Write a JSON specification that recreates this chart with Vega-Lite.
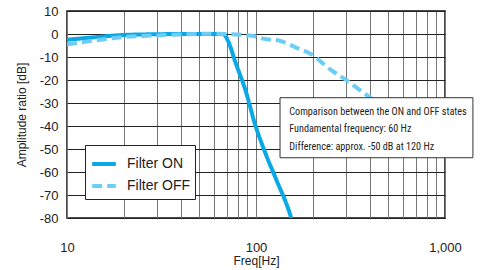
{
  "$schema": "https://vega.github.io/schema/vega-lite/v6.json",
  "width": 378,
  "height": 207,
  "autosize": {"type": "none"},
  "padding": {"left": 67, "top": 11, "right": 35, "bottom": 52},
  "background": "white",
  "config": {
    "font": "Liberation Sans",
    "view": {"stroke": "#111", "strokeWidth": 1.5},
    "axis": {"labelFont": "Liberation Sans", "titleFont": "Liberation Sans", "labelColor": "#222", "titleColor": "#222", "titleFontWeight": "normal"}
  },
  "datasets": {
    "curves": [
      {"freq": 10, "db": -2.5, "state": "Filter ON"},
      {"freq": 15, "db": -1.2, "state": "Filter ON"},
      {"freq": 20, "db": -0.4, "state": "Filter ON"},
      {"freq": 30, "db": -0.1, "state": "Filter ON"},
      {"freq": 40, "db": 0, "state": "Filter ON"},
      {"freq": 67, "db": 0, "state": "Filter ON"},
      {"freq": 69, "db": -1, "state": "Filter ON"},
      {"freq": 72, "db": -4, "state": "Filter ON"},
      {"freq": 77.4, "db": -11.7, "state": "Filter ON"},
      {"freq": 88, "db": -24.5, "state": "Filter ON"},
      {"freq": 98.9, "db": -39.3, "state": "Filter ON"},
      {"freq": 113, "db": -52.5, "state": "Filter ON"},
      {"freq": 128.9, "db": -63.9, "state": "Filter ON"},
      {"freq": 151.4, "db": -78.4, "state": "Filter ON"},
      {"freq": 156, "db": -82, "state": "Filter ON"},
      {"freq": 10, "db": -4.5, "state": "Filter OFF"},
      {"freq": 15, "db": -2.5, "state": "Filter OFF"},
      {"freq": 20, "db": -1.3, "state": "Filter OFF"},
      {"freq": 30, "db": -0.6, "state": "Filter OFF"},
      {"freq": 40, "db": -0.2, "state": "Filter OFF"},
      {"freq": 55, "db": 0.1, "state": "Filter OFF"},
      {"freq": 70, "db": 0, "state": "Filter OFF"},
      {"freq": 85, "db": -0.4, "state": "Filter OFF"},
      {"freq": 100, "db": -1.1, "state": "Filter OFF"},
      {"freq": 109, "db": -2, "state": "Filter OFF"},
      {"freq": 134, "db": -3, "state": "Filter OFF"},
      {"freq": 164, "db": -6, "state": "Filter OFF"},
      {"freq": 197, "db": -8.9, "state": "Filter OFF"},
      {"freq": 247, "db": -15.4, "state": "Filter OFF"},
      {"freq": 302, "db": -20.2, "state": "Filter OFF"},
      {"freq": 392, "db": -27, "state": "Filter OFF"},
      {"freq": 460, "db": -31, "state": "Filter OFF"}
    ],
    "box": [{"freq": 134, "freq2": 1405, "db": -27.7, "db2": -53.8}],
    "notes": [
      {"freq": 150, "db": -33.7, "text": "Comparison between the ON and OFF states"},
      {"freq": 150, "db": -41.2, "text": "Fundamental frequency: 60 Hz"},
      {"freq": 150, "db": -49.0, "text": "Difference: approx. -50 dB at 120 Hz"}
    ]
  },
  "encoding": {
    "x": {
      "field": "freq", "type": "quantitative",
      "scale": {"type": "log", "domain": [10, 1000], "nice": false},
      "axis": {
        "title": "Freq[Hz]", "titleFontSize": 12, "titlePadding": 1,
        "values": [10, 20, 30, 40, 50, 60, 70, 80, 90, 100, 200, 300, 400, 500, 600, 700, 800, 900, 1000],
        "labelExpr": "indexof([10, 100, 1000], datum.value) >= 0 ? format(datum.value, ',') : ''",
        "labelFontSize": 13, "labelPadding": 23, "tickSize": 0, "domain": false,
        "grid": true, "gridColor": "#777", "gridWidth": 1, "gridOpacity": 1, "labelFlush": false, "labelOverlap": false
      }
    },
    "y": {
      "field": "db", "type": "quantitative",
      "scale": {"domain": [-80, 10], "nice": false},
      "axis": {
        "title": "Amplitude ratio [dB]", "titleFontSize": 12,
        "titleX": -46, "titleY": 103.5, "titleAngle": -90, "titleAlign": "center", "titleBaseline": "middle",
        "values": [-80, -70, -60, -50, -40, -30, -20, -10, 0, 10],
        "labelExpr": "'' + datum.value",
        "labelFontSize": 13, "labelPadding": 9, "tickSize": 0, "domain": false,
        "grid": true, "gridColor": "#222", "gridWidth": 1, "gridOpacity": 1, "labelOverlap": false
      }
    }
  },
  "layer": [
    {
      "data": {"name": "curves"},
      "mark": {"type": "line", "strokeWidth": 4, "clip": true, "interpolate": "monotone"},
      "encoding": {
        "color": {
          "field": "state", "type": "nominal",
          "scale": {"domain": ["Filter ON", "Filter OFF"], "range": ["#0AA8E6", "#6CCDF5"]},
          "legend": {
            "title": null, "orient": "none", "legendX": 18, "legendY": 134,
            "fillColor": "white", "strokeColor": "#222", "padding": 5,
            "symbolType": "stroke", "symbolSize": 560, "symbolStrokeWidth": 4,
            "labelFontSize": 14, "labelColor": "#222", "labelOffset": 9, "rowPadding": 0
          }
        },
        "strokeDash": {
          "field": "state", "type": "nominal",
          "scale": {"domain": ["Filter ON", "Filter OFF"], "range": [[1, 0], [10, 5]]},
          "legend": {
            "title": null, "orient": "none", "legendX": 18, "legendY": 134,
            "fillColor": "white", "strokeColor": "#222", "padding": 5,
            "symbolType": "stroke", "symbolSize": 560, "symbolStrokeWidth": 4,
            "labelFontSize": 14, "labelColor": "#222", "labelOffset": 9, "rowPadding": 0
          }
        }
      }
    },
    {
      "data": {"name": "box"},
      "mark": {"type": "rect", "fill": "white", "stroke": "#333", "strokeWidth": 1, "clip": false},
      "encoding": {
        "x2": {"field": "freq2"},
        "y2": {"field": "db2"}
      }
    },
    {
      "data": {"name": "notes"},
      "mark": {"type": "text", "align": "left", "baseline": "middle", "font": "Roboto Condensed", "fontSize": 10.2, "color": "#222", "clip": false},
      "encoding": {
        "text": {"field": "text"}
      }
    }
  ]
}
